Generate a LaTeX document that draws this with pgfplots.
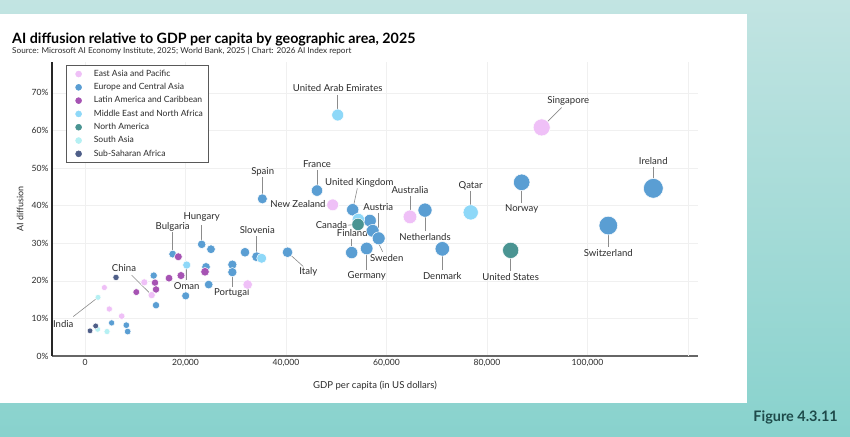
\documentclass[border=0pt]{standalone}
\usepackage{pgfplots}
\pgfplotsset{compat=1.18}
\usepackage{pgfplotstable}
\usetikzlibrary{arrows.meta}
\usepackage{fontspec}
\setmainfont{Lato}

\definecolor{eap}{HTML}{EFC0F7}
\definecolor{eca}{HTML}{5A9ED3}
\definecolor{lac}{HTML}{A653B3}
\definecolor{mena}{HTML}{8ED8F8}
\definecolor{nam}{HTML}{4A9492}
\definecolor{sas}{HTML}{B5F0F3}
\definecolor{ssa}{HTML}{4E5E88}
\definecolor{bgtop}{HTML}{C2E4E2}
\definecolor{bgbot}{HTML}{88D2CD}
\definecolor{figtxt}{HTML}{1E4A4A}
\definecolor{gridc}{HTML}{F0F0F0}
\definecolor{txt}{HTML}{2B2B2B}
\definecolor{lnkc}{HTML}{8C8C8C}

% GDP per capita (US dollars) and AI diffusion (%) by region
\pgfplotstableread{
gdp ai
90880 60.8
49290 40.2
64670 37.0
32370 19.0
13270 16.2
11800 19.6
3850 18.2
4840 12.5
7300 10.6
}\eapdata
\pgfplotstableread{
gdp ai
46170 44.0
35290 41.8
53270 38.9
56700 36.0
57250 33.3
58440 31.3
53070 27.5
56050 28.6
67660 38.8
86900 46.2
71110 28.5
113100 44.6
104140 34.7
40300 27.6
34160 26.4
31840 27.6
23220 29.7
25070 28.4
17450 27.1
29320 24.3
29320 22.3
24080 23.7
24610 19.0
20040 16.0
13670 21.4
14130 13.5
5300 8.8
8220 8.2
8490 6.5
}\ecadata
\pgfplotstableread{
gdp ai
18570 26.4
23880 22.4
19100 21.4
16720 20.7
13930 19.5
14130 17.7
10210 17.0
}\lacdata
\pgfplotstableread{
gdp ai
50290 64.1
76750 38.2
54400 36.3
35160 26.0
20240 24.2
}\menadata
\pgfplotstableread{
gdp ai
54330 35.0
84710 28.1
}\namdata
\pgfplotstableread{
gdp ai
2590 15.6
2520 7.1
4380 6.5
}\sasdata
\pgfplotstableread{
gdp ai
6170 20.9
1000 6.7
2120 8.0
}\ssadata

\pgfplotsset{
  pts/.style={scatter, only marks, mark=*, line width=0.5bp,
    scatter/use mapped color={draw=white, fill=#1},
    visualization depends on={2.8+0.000063*\thisrow{gdp} \as \msize},
    scatter/@pre marker code/.append style={/tikz/mark size=\msize},
    legend image code/.code={\path (0bp,0bp); \fill[#1] (7bp,0bp) circle (3bp);}},
}
\tikzset{
  lbl/.style={font=\fontsize{9.6}{11}\selectfont, text=txt, inner sep=0pt},
  lnk/.style={draw=lnkc, line width=0.6bp, -{Stealth[length=2.2bp,width=2.2bp]}},
}
\newcommand{\lab}[3]{\node[lbl] at (axis cs:#1,#2) {#3};}
\newcommand{\lnk}[4]{\draw[lnk] (axis cs:#1,#2) -- (axis cs:#3,#4);}

\begin{document}
\begin{tikzpicture}[x=1bp,y=1bp]
\shade[top color=bgtop, bottom color=bgbot] (0bp,0bp) rectangle (850bp,437bp);
\fill[white] (0bp,34bp) rectangle (747bp,423bp);
\node[anchor=base west, inner sep=0pt, text=black, font=\bfseries\fontsize{14.3}{16}\selectfont] at (12bp,393bp) {AI diffusion relative to GDP per capita by geographic area, 2025};
\node[anchor=base west, inner sep=0pt, text=txt, font=\fontsize{8.2}{9}\selectfont] at (12bp,383bp) {Source: Microsoft AI Economy Institute, 2025; World Bank, 2025 | Chart: 2026 AI Index report};
\node[anchor=base east, inner sep=0pt, text=figtxt, font=\bfseries\fontsize{14.5}{16}\selectfont] at (838bp,15.5bp) {Figure 4.3.11};

\begin{axis}[
  at={(52bp,81bp)}, anchor=south west,
  scale only axis, width=646bp, height=294bp,
  xmin=-6570, xmax=121990, ymin=0, ymax=78.2,
  axis lines=left,
  axis line style={-},
  x axis line style={draw=black!60, line width=1.6bp},
  y axis line style={draw=black!85, line width=1.2bp},
  major tick length=0pt,
  grid=major,
  major grid style={draw=gridc, line width=0.6bp},
  xtick={0,20000,40000,60000,80000,100000},
  extra x ticks={120000}, extra x tick labels={},
  ytick={0,10,...,70},
  scaled x ticks=false,
  /pgf/number format/assume math mode=true,
  xticklabel style={/pgf/number format/fixed, /pgf/number format/precision=0, /pgf/number format/1000 sep={,}},
  yticklabel={\pgfmathprintnumber[fixed,precision=0]{\tick}\%},
  tick label style={font=\fontsize{8.6}{9}\selectfont, text=txt},
  xlabel={GDP per capita (in US dollars)},
  ylabel={AI diffusion},
  every axis x label/.style={at={(axis description cs:0.5,0)}, anchor=north, yshift=-22bp, font=\fontsize{9.6}{11}\selectfont, text=txt},
  every axis y label/.style={at={(axis description cs:-0.0495,0.5)}, rotate=90, anchor=center, font=\fontsize{9}{10}\selectfont, text=txt},
  legend cell align=left,
  legend style={at={(axis description cs:0.0217,0.99)}, anchor=north west,
    draw=black!65, line width=0.7bp, fill=white,
    font=\fontsize{8.6}{9}\selectfont, text=txt,
    inner xsep=5bp, inner ysep=4.5bp,
    nodes={inner sep=0pt, text height=6.5bp, text depth=2bp},
    row sep=4.8bp, column sep=12bp},
]
\addplot[pts=eap] table[x=gdp,y=ai] {\eapdata};
\addlegendentry{East Asia and Pacific}
\addplot[pts=eca] table[x=gdp,y=ai] {\ecadata};
\addlegendentry{Europe and Central Asia}
\addplot[pts=lac] table[x=gdp,y=ai] {\lacdata};
\addlegendentry{Latin America and Caribbean}
\addplot[pts=mena] table[x=gdp,y=ai] {\menadata};
\addlegendentry{Middle East and North Africa}
\addplot[pts=nam] table[x=gdp,y=ai] {\namdata};
\addlegendentry{North America}
\addplot[pts=sas] table[x=gdp,y=ai] {\sasdata};
\addlegendentry{South Asia}
\addplot[pts=ssa] table[x=gdp,y=ai] {\ssadata};
\addlegendentry{Sub-Saharan Africa}

% country call-outs
\lab{50290}{71.2}{United Arab Emirates}\lnk{50290}{69.4}{50290}{64.1}
\lab{96170}{67.9}{Singapore}\lnk{94860}{66.1}{90880}{60.8}
\lab{46170}{51.1}{France}\lnk{46170}{49.5}{46170}{44.0}
\lab{35360}{49.0}{Spain}\lnk{35290}{47.6}{35290}{41.8}
\node[lbl, anchor=east] at (axis cs:47900,40.3) {New Zealand};
\lab{54590}{46.1}{United Kingdom}\lnk{54190}{44.6}{53270}{38.9}
\lab{58370}{39.5}{Austria}\lnk{58440}{38.0}{58440}{31.3}
\node[lbl, anchor=east] at (axis cs:52200,34.8) {Canada};\lnk{52300}{34.8}{54330}{35.0}
\lab{53190}{32.6}{Finland}\lnk{53070}{31.2}{53070}{27.5}
\lab{60040}{26.0}{Sweden}\lnk{59240}{27.7}{57250}{33.3}
\lab{56060}{21.3}{Germany}\lnk{56050}{22.9}{56050}{28.6}
\lab{44440}{22.3}{Italy}\lnk{43440}{23.8}{40300}{27.6}
\lab{34290}{33.5}{Slovenia}\lnk{34160}{31.9}{34160}{26.4}
\lab{64670}{44.1}{Australia}\lnk{64670}{42.6}{64670}{37.0}
\lab{67660}{31.6}{Netherlands}\lnk{67660}{33.2}{67660}{38.8}
\lab{76750}{45.2}{Qatar}\lnk{76750}{43.9}{76750}{38.2}
\lab{86900}{39.0}{Norway}\lnk{86900}{40.7}{86900}{46.2}
\lab{71100}{21.3}{Denmark}\lnk{71110}{22.9}{71110}{28.5}
\lab{84710}{20.9}{United States}\lnk{84710}{22.6}{84710}{28.1}
\lab{113090}{51.8}{Ireland}\lnk{113100}{50.3}{113100}{44.6}
\lab{104140}{27.5}{Switzerland}\lnk{104140}{29.0}{104140}{34.7}
\lab{23220}{36.9}{Hungary}\lnk{23220}{34.8}{23220}{29.7}
\lab{17450}{34.4}{Bulgaria}\lnk{17450}{33.0}{17450}{27.1}
\lab{7760}{23.3}{China}\lnk{9290}{21.5}{13270}{16.2}
\lab{20240}{18.7}{Oman}\lnk{20240}{20.2}{20240}{24.2}
\lab{29190}{16.8}{Portugal}\lnk{29320}{18.4}{29320}{22.3}
\lab{-4320}{8.4}{India}\lnk{-2330}{10.5}{2590}{15.6}
\end{axis}
\end{tikzpicture}
\end{document}
